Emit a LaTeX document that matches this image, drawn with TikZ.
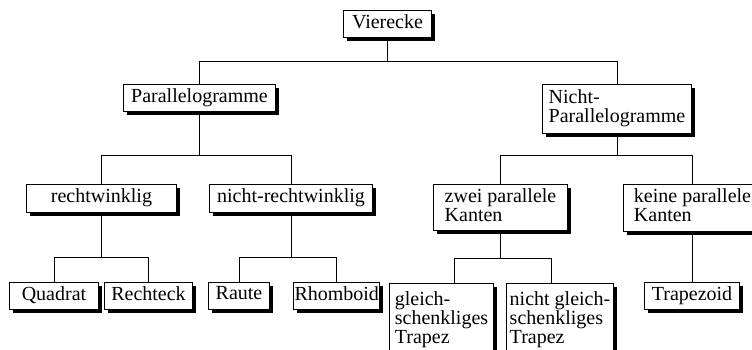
\documentclass[tikz,border=0pt]{standalone}
\usepackage{fontspec}
\setmainfont{Liberation Serif}
\usepackage{tikz}
\usetikzlibrary{positioning}
\tikzstyle{box} = [rectangle, draw, fill=white, line width=1pt, anchor=north west,
    align=left, inner sep=1pt, minimum height=27pt,
    font=\fontsize{20}{19}\selectfont,
    execute at begin node=\strut, execute at end node=\strut,
    preaction={fill=black, draw=none, transform canvas={shift={(3.5pt,-3.5pt)}}}]
\tikzstyle{line} = [draw, line width=1pt]

\begin{document}
\begin{tikzpicture}[x=1pt, y=-1pt]
    \useasboundingbox (0,0) rectangle (752,349);
    \clip (0,0) rectangle (752,349);
    % Place nodes
    \node [box, minimum width=88pt] (vier) at (343,10) {Vierecke};
    \node [box, minimum width=152pt] (par) at (123,84) {Parallelogramme};
    \node [box, minimum width=149pt, minimum height=49pt] (npar) at (542,84) {Nicht-\\Parallelogramme};
    \node [box, minimum width=150pt, minimum height=28pt] (recht) at (26,184) {rechtwinklig};
    \node [box, minimum width=163pt, minimum height=28pt] (nrecht) at (209,184) {nicht-rechtwinklig};
    \node [box, minimum width=134pt, minimum height=46pt] (zwei) at (433,184) {zwei parallele\\Kanten};
    \node [box, minimum width=138pt, minimum height=47pt] (keine) at (623,184) {keine parallele\\Kanten};
    \node [box, minimum width=89pt] (quad) at (9,282) {Quadrat};
    \node [box, minimum width=88pt] (rechteck) at (104,282) {Rechteck};
    \node [box, minimum width=61pt] (raute) at (208,282) {Raute};
    \node [box, minimum width=85pt] (rhomb) at (293,282) {Rhomboid};
    \node [box, minimum width=104pt, minimum height=74pt] (gleich) at (389,283) {gleich-\\schenkliges\\Trapez};
    \node [box, minimum width=107pt, minimum height=74pt] (ngleich) at (506,283) {nicht gleich-\\schenkliges\\Trapez};
    \node [box, minimum width=95pt] (trapezoid) at (644,282) {Trapezoid};
    % Draw edges
    \path [line] (vier.south) -- ++(0,23) -| (par.north);
    \path [line] (vier.south) -- ++(0,23) -| (npar.north);
    \path [line] (par.south) -- ++(0,43) -| (recht.north);
    \path [line] (par.south) -- ++(0,43) -| (nrecht.north);
    \path [line] (npar.south) -- ++(0,21) -| (zwei.north);
    \path [line] (npar.south) -- ++(0,21) -| (keine.north);
    \path [line] (recht.south) -- ++(0,44) -| (quad.north);
    \path [line] (recht.south) -- ++(0,44) -| (rechteck.north);
    \path [line] (nrecht.south) -- ++(0,44) -| (raute.north);
    \path [line] (nrecht.south) -- ++(0,44) -| (rhomb.north);
    \path [line] (zwei.south) -- ++(0,27) -| ([xshift=13pt]gleich.north);
    \path [line] (zwei.south) -- ++(0,27) -| ([xshift=-9pt]ngleich.north);
    \path [line] (keine.south) -- (keine.south |- trapezoid.north);
\end{tikzpicture}
\end{document}
